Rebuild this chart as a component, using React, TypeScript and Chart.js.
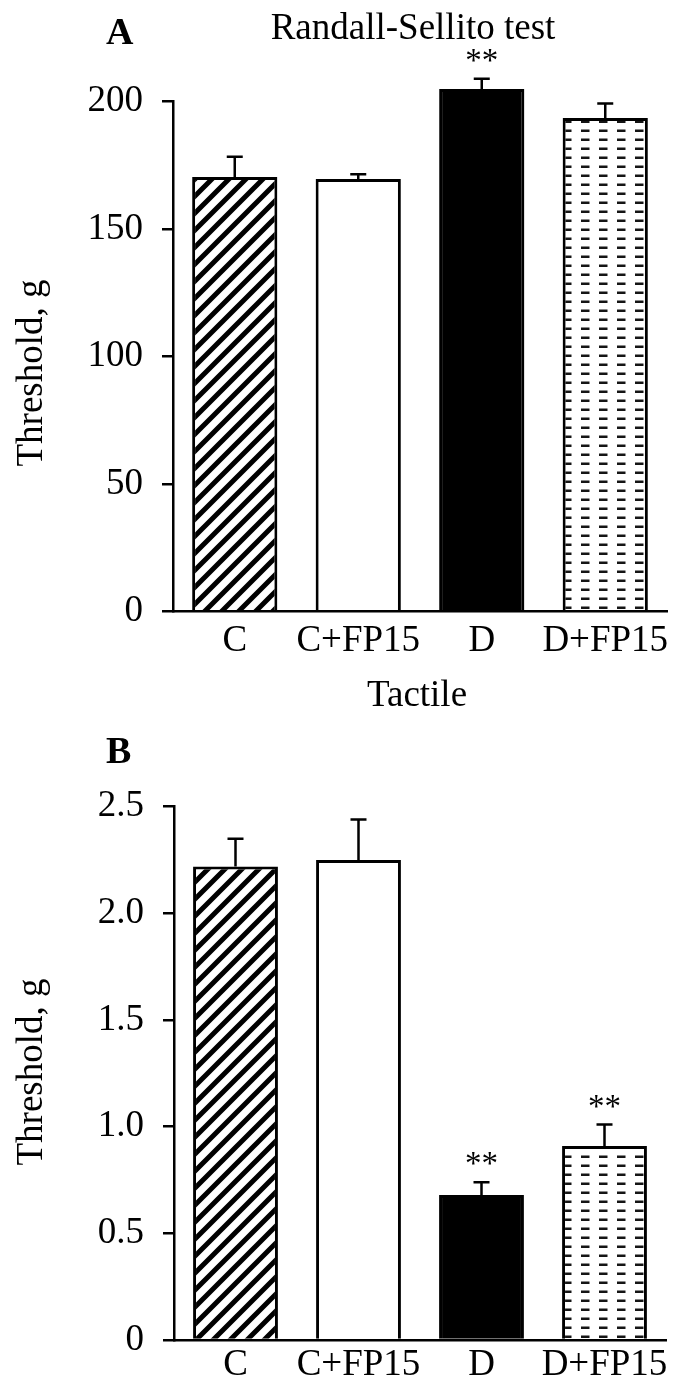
import React, { useEffect, useRef } from 'react';
import { Chart, registerables } from 'chart.js';

Chart.register(...registerables);

// ---------- data ----------
const CATEGORIES = ['C', 'C+FP15', 'D', 'D+FP15'];

const RS_MEANS = [170.4, 169.6, 204.9, 193.5];
const RS_SEM = [7.9, 1.9, 4.0, 5.7];
const RS_SIG = ['', '', '**', ''];
const RS_TICKS = ['0', '50', '100', '150', '200'];

const TAC_MEANS = [2.22, 2.25, 0.68, 0.91];
const TAC_SEM = [0.13, 0.19, 0.06, 0.1];
const TAC_SIG = ['', '', '**', '**'];
const TAC_TICKS = ['0', '0.5', '1.0', '1.5', '2.0', '2.5'];

const FONT = '"Liberation Serif", "Times New Roman", Times, serif';

type Panel = {
  top: number;
  width: number;
  height: number;
  areaLeft: number;
  areaRight: number;
  areaTop: number;
  areaBottom: number;
  yMax: number;
  yStep: number;
  tickLabels: string[];
  means: number[];
  sem: number[];
  sig: string[];
  letter: string;
  letterX: number;
  letterBase: number;
  title?: string;
  titleX?: number;
  titleBase?: number;
  yTitle: string;
  yTitleX: number;
  yTitleY: number;
  xTitle?: string;
  xTitleX?: number;
  xTitleBase?: number;
  xLabelPad: number;
};

const PANELS: Panel[] = [
  {
    top: 0,
    width: 689,
    height: 720,
    areaLeft: 173,
    areaRight: 667,
    areaTop: 101.5,
    areaBottom: 611.3,
    yMax: 200,
    yStep: 50,
    tickLabels: RS_TICKS,
    means: RS_MEANS,
    sem: RS_SEM,
    sig: RS_SIG,
    letter: 'A',
    letterX: 106,
    letterBase: 43.5,
    title: 'Randall-Sellito test',
    titleX: 413,
    titleBase: 39,
    yTitle: 'Threshold, g',
    yTitleX: 42,
    yTitleY: 373,
    xTitle: 'Tactile',
    xTitleX: 417,
    xTitleBase: 706,
    xLabelPad: 8,
  },
  {
    top: 720,
    width: 689,
    height: 673,
    areaLeft: 174,
    areaRight: 666,
    areaTop: 86.7,
    areaBottom: 620,
    yMax: 2.5,
    yStep: 0.5,
    tickLabels: TAC_TICKS,
    means: TAC_MEANS,
    sem: TAC_SEM,
    sig: TAC_SIG,
    letter: 'B',
    letterX: 106,
    letterBase: 43,
    yTitle: 'Threshold, g',
    yTitleX: 42,
    yTitleY: 352,
    xLabelPad: 3.5,
  },
];

function makeHatch(): CanvasPattern | string {
  const s = 17;
  const c = document.createElement('canvas');
  c.width = s;
  c.height = s;
  const g = c.getContext('2d');
  if (!g) return '#888';
  g.fillStyle = '#fff';
  g.fillRect(0, 0, s, s);
  g.strokeStyle = '#000';
  g.lineWidth = 5;
  g.beginPath();
  g.moveTo(-2, s + 2);
  g.lineTo(s + 2, -2);
  g.moveTo(-6, 6);
  g.lineTo(6, -6);
  g.moveTo(s - 6, s + 6);
  g.lineTo(s + 6, s - 6);
  g.stroke();
  const p = g.createPattern(c, 'repeat');
  return p || '#888';
}

function makeDashes(): CanvasPattern | string {
  const w = 18;
  const h = 9;
  const c = document.createElement('canvas');
  c.width = w;
  c.height = h;
  const g = c.getContext('2d');
  if (!g) return '#ddd';
  g.fillStyle = '#fff';
  g.fillRect(0, 0, w, h);
  g.fillStyle = '#151515';
  g.fillRect(5, 3.5, 8.5, 2.5);
  const p = g.createPattern(c, 'repeat');
  return p || '#ddd';
}

function PanelChart({ panel }: { panel: Panel }) {
  const ref = useRef<HTMLCanvasElement | null>(null);

  useEffect(() => {
    const canvas = ref.current;
    if (!canvas) return;

    const fills = [makeHatch(), '#ffffff', '#000000', makeDashes()];

    const annotations = {
      id: 'annotations',
      afterDatasetsDraw(chart: any) {
        const ctx: CanvasRenderingContext2D = chart.ctx;
        const xs = chart.scales.x;
        const ys = chart.scales.y;
        ctx.save();
        ctx.strokeStyle = '#000';
        ctx.lineWidth = 2.5;
        panel.means.forEach((m, i) => {
          const x = xs.getPixelForValue(i);
          const yM = ys.getPixelForValue(m);
          const yT = ys.getPixelForValue(m + panel.sem[i]);
          ctx.beginPath();
          ctx.moveTo(x, yM);
          ctx.lineTo(x, yT);
          ctx.moveTo(x - 8, yT);
          ctx.lineTo(x + 8, yT);
          ctx.stroke();
          const s = panel.sig[i];
          if (s) {
            ctx.font = `33px ${FONT}`;
            ctx.fillStyle = '#000';
            ctx.textAlign = 'center';
            ctx.textBaseline = 'alphabetic';
            const mt = ctx.measureText(s);
            const bottom = yT - 17;
            ctx.fillText(s, x, bottom - mt.actualBoundingBoxDescent);
          }
        });
        ctx.restore();
      },
      afterDraw(chart: any) {
        const ctx: CanvasRenderingContext2D = chart.ctx;
        ctx.save();
        ctx.fillStyle = '#000';
        ctx.textBaseline = 'alphabetic';
        // panel letter
        ctx.font = `bold 38px ${FONT}`;
        ctx.textAlign = 'left';
        ctx.fillText(panel.letter, panel.letterX, panel.letterBase);
        ctx.font = `37px ${FONT}`;
        if (panel.title) {
          ctx.textAlign = 'center';
          ctx.fillText(panel.title, panel.titleX as number, panel.titleBase as number);
        }
        if (panel.xTitle) {
          ctx.textAlign = 'center';
          ctx.fillText(panel.xTitle, panel.xTitleX as number, panel.xTitleBase as number);
        }
        ctx.translate(panel.yTitleX, panel.yTitleY);
        ctx.rotate(-Math.PI / 2);
        ctx.textAlign = 'center';
        ctx.fillText(panel.yTitle, 0, 0);
        ctx.restore();
      },
    };

    const chart = new Chart(canvas, {
      type: 'bar',
      data: {
        labels: CATEGORIES,
        datasets: [
          {
            data: panel.means,
            backgroundColor: fills as any,
            borderColor: '#000',
            borderWidth: 3,
            borderSkipped: 'start',
            barPercentage: 0.69,
            categoryPercentage: 1,
            clip: false as any,
          },
        ],
      },
      options: {
        responsive: false,
        animation: false,
        events: [],
        devicePixelRatio: 1,
        layout: {
          padding: {
            top: panel.areaTop,
            right: panel.width - panel.areaRight,
            left: 0,
            bottom: 0,
          },
        },
        plugins: {
          legend: { display: false },
          tooltip: { enabled: false },
          title: { display: false },
        },
        scales: {
          x: {
            type: 'category',
            offset: true,
            grid: { display: false, drawTicks: false },
            border: { display: true, color: '#000', width: 2.5 },
            ticks: {
              color: '#000',
              font: { family: FONT, size: 37 },
              padding: panel.xLabelPad,
              autoSkip: false,
              maxRotation: 0,
              minRotation: 0,
            },
            afterFit: (s: any) => {
              s.height = panel.height - panel.areaBottom;
            },
          },
          y: {
            type: 'linear',
            min: 0,
            max: panel.yMax,
            grid: {
              display: true,
              drawOnChartArea: false,
              drawTicks: true,
              tickLength: 11,
              color: '#000',
              lineWidth: 2.5,
            },
            border: { display: true, color: '#000', width: 2.5 },
            ticks: {
              stepSize: panel.yStep,
              color: '#000',
              font: { family: FONT, size: 37 },
              padding: 19,
              callback: (_v: any, i: number) => panel.tickLabels[i] ?? '',
            },
            afterFit: (s: any) => {
              s.width = panel.areaLeft;
            },
          },
        },
      },
      plugins: [annotations],
    });

    return () => {
      chart.destroy();
    };
  }, [panel]);

  return (
    <canvas
      ref={ref}
      width={panel.width}
      height={panel.height}
      style={{
        position: 'absolute',
        left: 0,
        top: panel.top,
        width: panel.width,
        height: panel.height,
        display: 'block',
      }}
    />
  );
}

export default function App() {
  return (
    <div
      style={{
        position: 'absolute',
        left: 0,
        top: 0,
        width: 689,
        height: 1393,
        background: '#fff',
        overflow: 'hidden',
      }}
    >
      {PANELS.map((p) => (
        <PanelChart key={p.letter} panel={p} />
      ))}
    </div>
  );
}
